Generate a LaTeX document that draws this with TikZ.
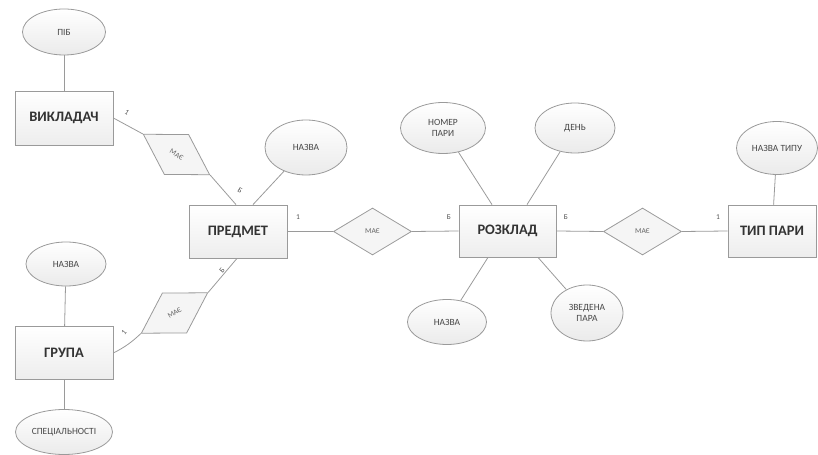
\documentclass[tikz,border=0pt]{standalone}
\usepackage{fontspec}
\setmainfont{Carlito}
\usepackage{tikz}
\usetikzlibrary{shapes.geometric}
\definecolor{edgegray}{HTML}{9A9A9A}
\definecolor{txtgray}{HTML}{333333}
\tikzset{
    entnode/.style={rectangle, draw=edgegray, thick, top color=white, bottom color=gray!14, text=txtgray, inner sep=0pt, font=\fontsize{14.5}{16}\selectfont\bfseries},
    attnode/.style={ellipse, draw=edgegray, thick, top color=white, bottom color=gray!16, text=txtgray!90, inner sep=0pt, align=center, font=\fontsize{9.5}{11}\selectfont},
    relnode/.style={diamond, draw=edgegray, thick, fill=gray!8, text=txtgray!75, inner sep=0pt, minimum width=78bp, minimum height=47bp, font=\fontsize{7.5}{9}\selectfont},
    cardlbl/.style={text=txtgray!85, inner sep=0pt, font=\fontsize{7.5}{9}\selectfont},
    conn/.style={draw=edgegray, thick},
}
\begin{document}
\begin{tikzpicture}[x=1bp, y=-1bp]
    \useasboundingbox (0,0) rectangle (818,455);
    % entities
    \node[entnode, minimum width=98bp, minimum height=54bp] (vik) at (64,118) {ВИКЛАДАЧ};
    \node[entnode, minimum width=98bp, minimum height=53bp] (pred) at (238,231.5) {ПРЕДМЕТ};
    \node[entnode, minimum width=98bp, minimum height=53bp] (gr) at (64,353) {ГРУПА};
    \node[entnode, minimum width=97bp, minimum height=52bp] (rozk) at (507.5,231) {РОЗКЛАД};
    \node[entnode, minimum width=88bp, minimum height=52bp] (typ) at (772,231) {ТИП ПАРИ};
    % attributes
    \node[attnode, minimum width=83bp, minimum height=46bp] (pib) at (64,32) {ПІБ};
    \node[attnode, minimum width=82bp, minimum height=55bp] (naz1) at (306,147.5) {НАЗВА};
    \node[attnode, minimum width=80bp, minimum height=44bp] (naz2) at (66,264) {НАЗВА};
    \node[attnode, minimum width=97bp, minimum height=45bp] (spec) at (64,432) {СПЕЦІАЛЬНОСТІ};
    \node[attnode, minimum width=85bp, minimum height=51bp] (nomer) at (443,128) {НОМЕР\\ПАРИ};
    \node[attnode, minimum width=80bp, minimum height=50bp] (den) at (575,128) {ДЕНЬ};
    \node[attnode, minimum width=79bp, minimum height=45bp] (naz3) at (447,322) {НАЗВА};
    \node[attnode, minimum width=72bp, minimum height=56bp] (zved) at (587,313) {ЗВЕДЕНА\\ПАРА};
    \node[attnode, minimum width=81bp, minimum height=53bp] (naztyp) at (777,148) {НАЗВА ТИПУ};
    % relationships
    \node[relnode, rotate=-31.4] (d1) at (176.5,154.5) {МАЄ};
    \node[relnode, rotate=31.4] (d2) at (174.5,313) {МАЄ};
    \node[relnode] (d3) at (372.5,231.5) {МАЄ};
    \node[relnode] (d4) at (642.5,231.5) {МАЄ};
    % links
    \draw[conn] (pib) -- (vik);
    \draw[conn] (naz2) -- (gr);
    \draw[conn] (gr) -- (spec);
    \draw[conn] (naztyp) -- (typ);
    \draw[conn] ([xshift=15bp]pred.north) -- (naz1);
    \draw[conn] ([xshift=-15.5bp]rozk.north) -- (nomer);
    \draw[conn] ([xshift=19.5bp]rozk.north) -- (den);
    \draw[conn] ([xshift=-19.5bp]rozk.south) -- (naz3);
    \draw[conn] ([xshift=30.5bp]rozk.south) -- (zved);
    \draw[conn] (vik.east) -- (d1.west);
    \draw[conn] (d1.east) -- ([xshift=-2bp]pred.north);
    \draw[conn] (gr.east) to[bend right=8] (d2.west);
    \draw[conn] (d2.east) -- ([xshift=-1bp]pred.south);
    \draw[conn] (pred.east) -- (d3.west);
    \draw[conn] (d3.east) -- (rozk.west);
    \draw[conn] (rozk.east) -- (d4.west);
    \draw[conn] (d4.east) -- (typ.west);
    % cardinalities
    \node[cardlbl, rotate=-31] (c1) at (127,112) {1};
    \node[cardlbl, rotate=-31] (c2) at (240,190) {Б};
    \node[cardlbl, rotate=50] (c3) at (124,333) {1};
    \node[cardlbl, rotate=50] (c4) at (222,270) {Б};
    \node[cardlbl] (c5) at (298,217) {1};
    \node[cardlbl] (c6) at (449,217) {Б};
    \node[cardlbl] (c7) at (566,217) {Б};
    \node[cardlbl] (c8) at (718,217) {1};
\end{tikzpicture}
\end{document}
